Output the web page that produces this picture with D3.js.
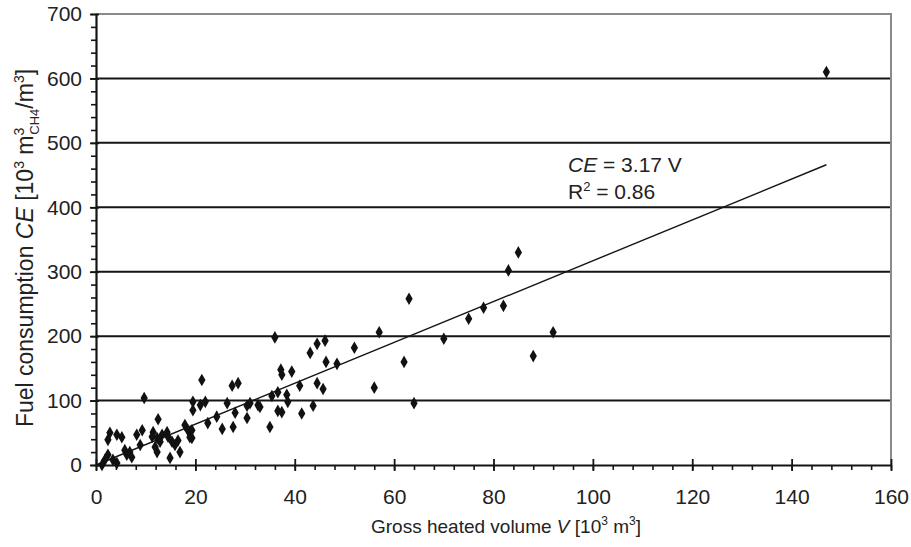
<!DOCTYPE html>
<html>
<head>
<meta charset="utf-8">
<script src="https://cdn.jsdelivr.net/npm/d3@7"></script>
<style>
  html, body { margin: 0; padding: 0; background: #fff; }
  svg { display: block; font-family: "Liberation Sans", Arial, sans-serif; }
</style>
</head>
<body>
<svg id="chart" width="911" height="547"></svg>
<script>
// Gross heated volume V [10^3 m^3]
const volume = [
  147, 85, 83, 82, 78, 75, 70, 92, 88, 63, 62, 64, 57, 56, 52,
  36, 44.5, 46.1, 43.1, 46.3, 48.5, 37.2, 39.4, 37.4, 27.4, 28.6, 41, 44.5, 45.7,
  36.6, 38.4, 35.4, 32.6, 30.4, 33, 36.6, 37.4, 41.4, 43.7, 30.4, 35, 21.3, 19.5,
  21, 22, 19.5, 26.4, 31, 38.6, 28, 24.3, 22.5, 25.4, 27.6, 19.3, 19.3,
  9.7, 12.5, 9.3, 8.2, 11.5, 11.3, 12.3, 13.3, 14.3, 14.5, 15.3, 12.9, 11.9, 12.3,
  15.9, 16.5, 14.9, 16.9, 17.9, 18.5, 18.9, 2.8, 2.4, 4.2, 5.2, 8.9, 5.8, 6.8, 6.2,
  7.2, 2.4, 3.4, 1.8, 1.2, 4.2
];
// Fuel consumption CE [10^3 m^3 CH4 / m^3]
const consumption = [
  610, 330, 302, 247, 244, 227, 196, 206, 169, 258, 160, 96, 206, 120, 182,
  198, 188, 193, 174, 160, 157, 148, 145, 140, 123, 127, 123, 127, 118,
  113, 109, 107, 93, 92, 90, 84, 82, 80, 92, 73, 59, 132, 98,
  93, 98, 85, 96, 96, 98, 81, 75, 65, 56, 59, 54, 42,
  104, 71, 54, 47, 51, 44, 42, 47, 51, 44, 36, 36, 28, 20,
  31, 38, 11, 20, 62, 54, 43, 50, 39, 47, 43, 31, 23, 20, 16,
  12, 16, 8, 8, 0, 3
];
const slope = 3.17;      // CE = 3.17 V
const rSquared = 0.86;
const fitRange = [0, 147];
const xTicks = [0, 20, 40, 60, 80, 100, 120, 140, 160];
const yTicks = [0, 100, 200, 300, 400, 500, 600, 700];

const svg = d3.select("#chart");
const pLeft = 96, pRight = 891, pTop = 14, pBottom = 465;
const x = d3.scaleLinear().domain([0, 160]).range([pLeft, pRight]);
const y = d3.scaleLinear().domain([0, 700]).range([pBottom, pTop]);
const ink = "#151515";
const txt = "#222";

// horizontal gridlines
svg.append("g").selectAll("line")
  .data(yTicks.filter(d => d > 0 && d < 700))
  .join("line")
  .attr("x1", pLeft).attr("x2", pRight)
  .attr("y1", d => y(d)).attr("y2", d => y(d))
  .attr("stroke", ink).attr("stroke-width", 2);

// frame top & right
svg.append("path")
  .attr("d", `M${pLeft},${y(700)}H${pRight}V${pBottom}`)
  .attr("fill", "none").attr("stroke", "#8a8a8a").attr("stroke-width", 2);

// minor ticks
const yMinor = d3.range(0, 701, 20);
const xMinor = d3.range(0, 161, 4);
const yMinorAxis = svg.append("g").attr("transform", `translate(${pLeft},0)`)
  .call(d3.axisLeft(y).tickValues(yMinor).tickSize(5).tickFormat(""));
const xMinorAxis = svg.append("g").attr("transform", `translate(0,${pBottom})`)
  .call(d3.axisBottom(x).tickValues(xMinor).tickSize(5).tickFormat(""));
[yMinorAxis, xMinorAxis].forEach(g => {
  g.select(".domain").remove();
  g.selectAll("line").attr("stroke", ink).attr("stroke-width", 1.6);
});

// major axes
const yAxis = svg.append("g").attr("transform", `translate(${pLeft},0)`)
  .call(d3.axisLeft(y).tickValues(yTicks).tickSize(6).tickPadding(8).tickSizeOuter(0));
const xAxis = svg.append("g").attr("transform", `translate(0,${pBottom})`)
  .call(d3.axisBottom(x).tickValues(xTicks).tickSize(6).tickPadding(18).tickSizeOuter(0));
[yAxis, xAxis].forEach(g => {
  g.select(".domain").attr("stroke", ink).attr("stroke-width", 2.2);
  g.selectAll(".tick line").attr("stroke", ink).attr("stroke-width", 1.8);
  g.selectAll(".tick text").attr("fill", txt).style("font-size", "21px")
    .style("font-family", "'Liberation Sans', Arial, sans-serif");
});
// major ticks crossing the axis
xAxis.selectAll(".tick line").attr("y1", -6);
yAxis.selectAll(".tick line").attr("x1", 3).attr("x2", -6);

// trend line
svg.append("line")
  .attr("x1", x(fitRange[0])).attr("y1", y(slope * fitRange[0]))
  .attr("x2", x(fitRange[1])).attr("y2", y(slope * fitRange[1]))
  .attr("stroke", ink).attr("stroke-width", 1.4);

// points
const pts = volume.map((v, i) => ({ v, c: consumption[i] }));
svg.append("g").selectAll("path")
  .data(pts)
  .join("path")
  .attr("transform", d => `translate(${x(d.v)},${y(d.c)})`)
  .attr("d", d3.symbol(d3.symbolDiamond, 46))
  .attr("fill", "#111");

// annotation
const ann = svg.append("text").attr("x", 568).attr("y", 172)
  .attr("fill", txt).style("font-size", "21px");
ann.append("tspan").style("font-style", "italic").text("CE");
ann.append("tspan").text(" = " + slope.toFixed(2) + " V");
const ann2 = svg.append("text").attr("x", 568).attr("y", 199)
  .attr("fill", txt).style("font-size", "21px");
ann2.append("tspan").text("R");
ann2.append("tspan").attr("dy", -8).style("font-size", "13px").text("2");
ann2.append("tspan").attr("dy", 8).text(" = " + rSquared.toFixed(2));

// x axis title
const xt = svg.append("text").attr("x", 506).attr("y", 533)
  .attr("text-anchor", "middle").attr("fill", txt).style("font-size", "19px");
xt.append("tspan").text("Gross heated volume ");
xt.append("tspan").style("font-style", "italic").text("V");
xt.append("tspan").text(" [10");
xt.append("tspan").attr("dy", -8).style("font-size", "12px").text("3");
xt.append("tspan").attr("dy", 8).text(" m");
xt.append("tspan").attr("dy", -8).style("font-size", "12px").text("3");
xt.append("tspan").attr("dy", 8).text("]");

// y axis title
const yt = svg.append("text")
  .attr("transform", "translate(33,248) rotate(-90)")
  .attr("text-anchor", "middle").attr("fill", txt).style("font-size", "23px");
yt.append("tspan").text("Fuel consumption ");
yt.append("tspan").style("font-style", "italic").text("CE");
yt.append("tspan").text(" [10");
yt.append("tspan").attr("dy", -9).style("font-size", "14px").text("3");
yt.append("tspan").attr("dy", 9).text(" m");
yt.append("tspan").attr("dy", -9).style("font-size", "14px").text("3");
yt.append("tspan").attr("dx", -7).attr("dy", 15).style("font-size", "13px").text("CH4");
yt.append("tspan").attr("dy", -6).text("/m");
yt.append("tspan").attr("dy", -9).style("font-size", "14px").text("3");
yt.append("tspan").attr("dy", 9).text("]");
</script>
</body>
</html>
